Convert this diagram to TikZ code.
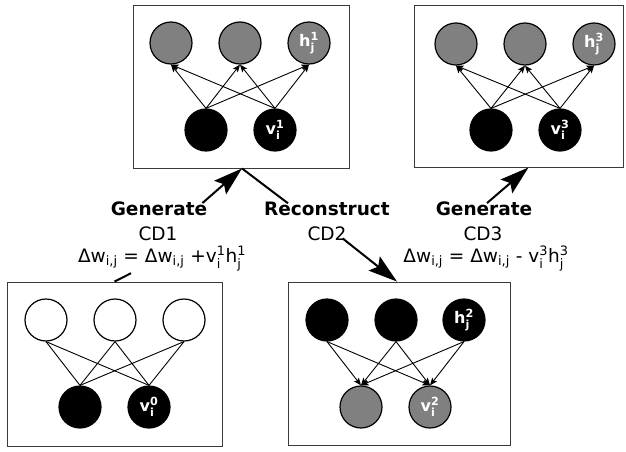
\documentclass[tikz,border=0pt]{standalone}
\usepackage{amsmath}
\usepackage{fontspec}
\setmainfont{DejaVu Sans}
\usetikzlibrary{arrows.meta}
\definecolor{unitgray}{HTML}{808080}
\definecolor{panelline}{HTML}{3A3A3A}

\begin{document}
\begin{tikzpicture}[x=1pt,y=-1pt,
  panel/.style={draw=panelline, line width=0.9pt, inner sep=0pt},
  unit/.style={circle, draw=black, line width=1.2pt, minimum size=42pt, inner sep=0pt,
    text=white, font=\fontsize{16}{16}\selectfont\bfseries},
  onunit/.style={unit, fill=black},
  offunit/.style={unit, fill=white},
  greyunit/.style={unit, fill=unitgray},
  wire/.style={line width=0.9pt},
  wirearrow/.style={wire, -{Stealth[length=7.5pt,width=6pt,inset=1.5pt]}},
  bigarrow/.style={line width=2pt, -{Stealth[length=29pt,width=18pt,inset=5pt]}},
  bigline/.style={line width=2pt},
  caption/.style={anchor=base, inner sep=0pt, font=\fontsize{18.5}{22}\selectfont},
  boldcaption/.style={caption, font=\fontsize{18.5}{22}\selectfont\bfseries}]

\useasboundingbox (0,0) rectangle (626,452);

% ---- panels ----
\node[panel, minimum width=216pt, minimum height=163pt] (box1) at (241,86.5) {};
\node[panel, minimum width=209pt, minimum height=162pt] (box3) at (518.5,86) {};
\node[panel, minimum width=215pt, minimum height=164pt] (box0) at (114.5,364) {};
\node[panel, minimum width=222pt, minimum height=163pt] (box2) at (399,363.5) {};

% ---- step 1: visible -> hidden ----
\node[greyunit] (t11) at (171,43) {};
\node[greyunit] (t12) at (240,43) {};
\node[greyunit] (t13) at (309,43) {h$_{\text{j}}^{\text{1}}$};
\node[onunit] (b11) at (206,130) {};
\node[onunit] (b12) at (275,130) {v$_{\text{i}}^{\text{1}}$};
\foreach \b in {b11,b12}
  \foreach \t in {t11,t12,t13}
    \draw[wirearrow] (\b.north) -- (\t.south);

% ---- step 3: visible -> hidden ----
\node[greyunit] (t31) at (456,44) {};
\node[greyunit] (t32) at (525,44) {};
\node[greyunit] (t33) at (594,44) {h$_{\text{j}}^{\text{3}}$};
\node[onunit] (b31) at (491,130) {};
\node[onunit] (b32) at (560,130) {v$_{\text{i}}^{\text{3}}$};
\foreach \b in {b31,b32}
  \foreach \t in {t31,t32,t33}
    \draw[wirearrow] (\b.north) -- (\t.south);

% ---- step 0: data ----
\node[offunit] (t01) at (46,320) {};
\node[offunit] (t02) at (115,320) {};
\node[offunit] (t03) at (184,320) {};
\node[onunit] (b01) at (80,407) {};
\node[onunit] (b02) at (149,407) {v$_{\text{i}}^{\text{0}}$};
\foreach \b in {b01,b02}
  \foreach \t in {t01,t02,t03}
    \draw[wire] (\t.south) -- (\b.north);

% ---- step 2: hidden -> visible ----
\node[onunit] (t21) at (327,320) {};
\node[onunit] (t22) at (396,320) {};
\node[onunit] (t23) at (464,320) {h$_{\text{j}}^{\text{2}}$};
\node[greyunit] (b21) at (361,407) {};
\node[greyunit] (b22) at (430,407) {v$_{\text{i}}^{\text{2}}$};
\foreach \b in {b21,b22}
  \foreach \t in {t21,t22,t23}
    \draw[wirearrow] (\t.south) -- (\b.north);

% ---- captions ----
\node[boldcaption] (gen1) at (159,215) {Generate};
\node[caption] (cd1) at (158,240) {CD1};
\node[caption] (dw1) at (162,262) {Δw$_{\text{i,j}}$ = Δw$_{\text{i,j}}$ +v$_{\text{i}}^{\text{1}}$h$_{\text{j}}^{\text{1}}$};
\node[boldcaption] (recon) at (327,215) {Reconstruct};
\node[caption] (cd2) at (327,240) {CD2};
\node[boldcaption] (gen3) at (484,215) {Generate};
\node[caption] (cd3) at (483,240) {CD3};
\node[caption] (dw3) at (486,262) {Δw$_{\text{i,j}}$ = Δw$_{\text{i,j}}$ - v$_{\text{i}}^{\text{3}}$h$_{\text{j}}^{\text{3}}$};

% ---- flow between steps ----
\draw[bigline] ([xshift=-31pt,yshift=-2pt]dw1.south) -- (box0.north);
\draw[bigarrow] ([xshift=-5pt,yshift=-2pt]gen1.north east) -- ([xshift=1pt]box1.south);
\draw[bigline] ([xshift=1pt]box1.south) -- ([xshift=24pt,yshift=-2pt]recon.north west);
\draw[bigarrow] ([xshift=-4pt,yshift=2pt]cd2.south east) -- ([xshift=-2pt]box2.north);
\draw[bigarrow] ([xshift=3pt,yshift=-2pt]gen3.north) -- ([xshift=10pt]box3.south);
\end{tikzpicture}
\end{document}
